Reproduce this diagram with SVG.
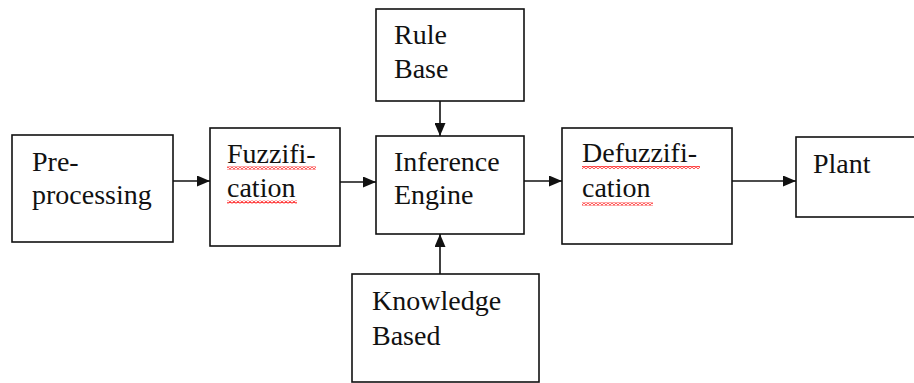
<svg xmlns="http://www.w3.org/2000/svg" width="914" height="383" viewBox="0 0 914 383">
  <style>
    .box { fill: #fff; stroke: #111; stroke-width: 1.6; }
    .lbl { font-family: 'Liberation Serif', serif; font-size: 28px; fill: #111; }
    .wire { stroke: #111; stroke-width: 1.6; fill: none; marker-end: url(#head); }
    .spell { fill: url(#squiggle); }
  </style>
  <defs>
    <marker id="head" markerUnits="userSpaceOnUse" markerWidth="13" markerHeight="11" refX="13" refY="5.5" orient="auto">
      <path d="M0,0 L13,5.5 L0,11 z" fill="#111"/>
    </marker>
    <!-- wavy red underline tile -->
    <pattern id="squiggle" patternUnits="userSpaceOnUse" width="4" height="3">
      <path d="M0,2.5 L2,0.5 L4,2.5" fill="none" stroke="#ff2020" stroke-width="1.1"/>
    </pattern>
  </defs>

  <g id="preprocessing">
    <rect class="box" x="12" y="135" width="161" height="107"/>
    <text class="lbl" x="32" y="171">Pre-</text>
    <text class="lbl" x="32" y="204">processing</text>
  </g>

  <g id="fuzzification">
    <rect class="box" x="210" y="128" width="130" height="118"/>
    <text class="lbl" x="227" y="163">Fuzzifi-</text>
    <text class="lbl" x="227" y="197">cation</text>
    <rect class="spell" x="227" y="166.5" width="89" height="3"/>
    <rect class="spell" x="227" y="200.5" width="70" height="3"/>
  </g>

  <g id="rule-base">
    <rect class="box" x="376" y="9" width="148" height="92"/>
    <text class="lbl" x="394" y="44">Rule</text>
    <text class="lbl" x="394" y="78">Base</text>
  </g>

  <g id="inference-engine">
    <rect class="box" x="376" y="136" width="148" height="98"/>
    <text class="lbl" x="394" y="171">Inference</text>
    <text class="lbl" x="394" y="204">Engine</text>
  </g>

  <g id="knowledge-based">
    <rect class="box" x="352" y="274" width="187" height="108"/>
    <text class="lbl" x="372" y="310">Knowledge</text>
    <text class="lbl" x="372" y="345">Based</text>
  </g>

  <g id="defuzzification">
    <rect class="box" x="562" y="128" width="170" height="116"/>
    <text class="lbl" x="582" y="162">Defuzzifi-</text>
    <text class="lbl" x="582" y="197">cation</text>
    <rect class="spell" x="582" y="166" width="118" height="3"/>
    <rect class="spell" x="582" y="202.5" width="71" height="3"/>
  </g>

  <g id="plant">
    <rect class="box" x="796" y="137" width="130" height="80"/>
    <text class="lbl" x="813" y="173">Plant</text>
  </g>

  <g id="connectors">
    <line class="wire" x1="173" y1="181" x2="210" y2="181"/>
    <line class="wire" x1="340" y1="182" x2="376" y2="182"/>
    <line class="wire" x1="440" y1="101" x2="440" y2="136"/>
    <line class="wire" x1="440" y1="274" x2="440" y2="234"/>
    <line class="wire" x1="524" y1="181" x2="562" y2="181"/>
    <line class="wire" x1="732" y1="181" x2="796" y2="181"/>
  </g>
</svg>
